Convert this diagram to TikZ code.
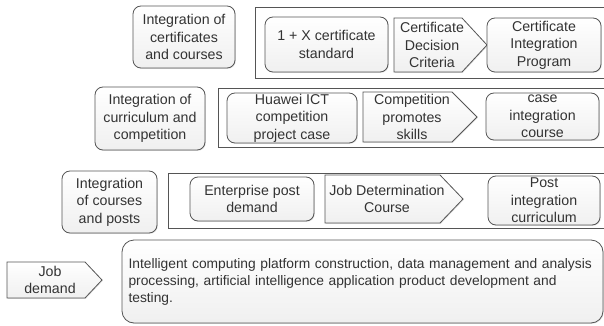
\documentclass[tikz,border=0pt]{standalone}
\usepackage{fontspec}
\setmainfont{Liberation Sans}
\usetikzlibrary{shadows}
\definecolor{edge}{HTML}{555555}
\definecolor{txt}{HTML}{333333}
\tikzset{
  fillstyle/.style={draw=edge, line width=0.8pt, top color=white, bottom color=gray!12,
    drop shadow={shadow xshift=0.8pt, shadow yshift=-0.8pt, fill=gray!40, opacity=0.6}},
  base/.style={fillstyle, text=txt, align=center, inner sep=0pt, font=\fontsize{14.2}{17.5}\selectfont},
  rbox/.style={base, rounded corners=8pt, minimum width=#1},
  frame/.style={draw=edge, line width=0.9pt, fill=white},
  arrowshape/.style={fillstyle, line join=miter},
  arrowtext/.style={text=txt, align=center, inner sep=0pt, font=\fontsize{14.2}{17.5}\selectfont}
}
\begin{document}
\begin{tikzpicture}[x=1pt,y=-1pt]
\useasboundingbox (0,0) rectangle (604,326);
% row 1
\node[rbox=102pt, minimum height=62pt] (l1) at (184,37) {Integration of\\certificates\\and courses};
\draw[frame] (255,7) rectangle (608,78);
\node[rbox=123pt, minimum height=55pt] (b11) at (326.5,44.5) {1 + X certificate\\standard};
\path[arrowshape] (394,18) -- (462,18) -- (487,45) -- (462,72) -- (394,72) -- cycle;
\node[arrowtext] (a12) at (432,45) {Certificate\\Decision\\Criteria};
\node[rbox=114pt, minimum height=54pt] (b13) at (544,45) {Certificate\\Integration\\Program};
% row 2
\node[rbox=110pt, minimum height=63pt] (l2) at (150,118.5) {Integration of\\curriculum and\\competition};
\draw[frame] (218,88) rectangle (608,147);
\node[rbox=130pt, minimum height=50pt] (b21) at (292,118) {Huawei ICT\\competition\\project case};
\path[arrowshape] (363,92) -- (452,92) -- (477,117) -- (452,142) -- (363,142) -- cycle;
\node[arrowtext] (a22) at (412,117) {Competition\\promotes\\skills};
\node[rbox=113pt, minimum height=47pt] (b23) at (542.5,116.5) {case\\integration\\course};
% row 3
\node[rbox=95pt, minimum height=62pt] (l3) at (109.5,202) {Integration\\of courses\\and posts};
\draw[frame] (168,173) rectangle (608,228);
\node[rbox=124pt, minimum height=44pt] (b31) at (252,199) {Enterprise post\\demand};
\path[arrowshape] (325,175) -- (440,175) -- (463,199) -- (440,223) -- (325,223) -- cycle;
\node[arrowtext] (a32) at (387,199) {Job Determination\\Course};
\node[rbox=112pt, minimum height=49pt] (b33) at (544,200.5) {Post\\integration\\curriculum};
% row 4
\path[arrowshape] (7,262) -- (85,262) -- (102,280) -- (85,298) -- (7,298) -- cycle;
\node[arrowtext] (a41) at (50,280) {Job\\demand};
\node[base, rounded corners=12pt, minimum width=481pt, minimum height=83pt, align=left, text width=468pt,
  font=\fontsize{13.8}{17}\selectfont] (b42) at (362.5,281.5)
  {Intelligent computing platform construction, data management and analysis\\
   processing, artificial intelligence application product development and\\
   testing.};
\end{tikzpicture}
\end{document}
